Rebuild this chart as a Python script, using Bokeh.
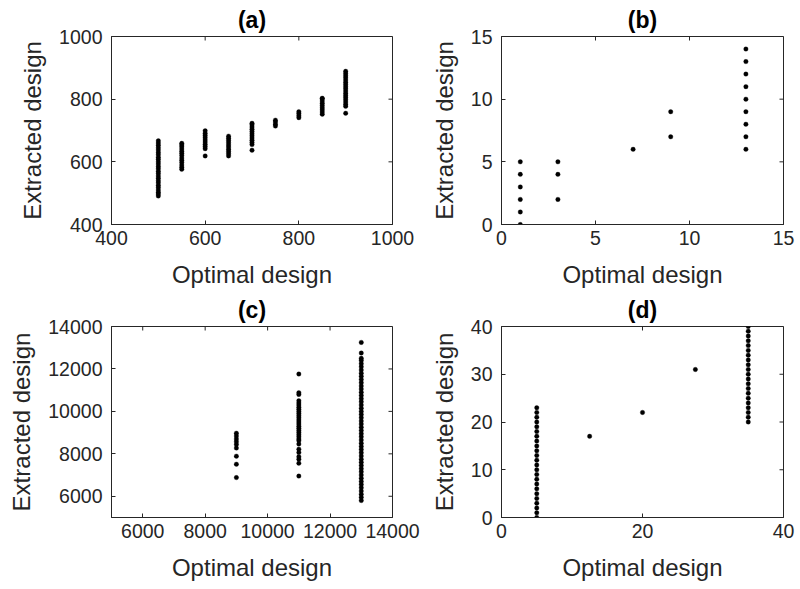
import math
from bokeh.plotting import figure
from bokeh.layouts import gridplot
from bokeh.models import Range1d, FixedTicker
from bokeh.embed import file_html
from bokeh.resources import INLINE

# ---------------- data ----------------
# (a)
a_cols = [500, 550, 600, 650, 700, 750, 800, 850, 900]
a_vals = [
    [491, 497, 503, 510, 518, 525, 533, 540, 548, 555, 563, 570, 578, 585, 593, 600, 608, 615, 623, 630, 638, 645, 653, 660, 667],
    [576, 583, 590, 598, 605, 612, 620, 627, 634, 641, 648, 654, 659],
    [619, 642, 649, 656, 663, 670, 677, 684, 691, 699],
    [619, 626, 633, 640, 647, 654, 661, 668, 675, 682],
    [637, 655, 662, 669, 676, 683, 690, 697, 704, 711, 718, 723],
    [714, 720, 727, 733],
    [741, 747, 754, 760],
    [752, 759, 766, 773, 780, 787, 794, 801, 803],
    [755, 777, 784, 791, 798, 805, 812, 819, 826, 833, 840, 847, 854, 861, 868, 875, 882, 889],
]
# (b)
b_cols = [1, 3, 7, 9, 13]
b_vals = [
    [0, 1, 2, 3, 4, 5],
    [2, 4, 5],
    [6],
    [7, 9],
    [6, 7, 8, 9, 10, 11, 12, 13, 14],
]
# (c)
c_cols = [9000, 11000, 13000]
c_vals = [
    [6880, 7510, 7890, 8270, 8440, 8570, 8700, 8840, 8970],
    [6950, 7560, 7750, 7860, 8060, 8220, 8460, 8620, 8700, 8800, 8900, 9000, 9100, 9200,
     9300, 9400, 9500, 9600, 9700, 9800, 9900, 10000, 10100, 10200, 10300, 10400, 10500,
     10800, 10880, 11760],
    [5800, 5950, 6100, 6250, 6400, 6550, 6700, 6850, 7000, 7150, 7300, 7450, 7600, 7750,
     7900, 8050, 8200, 8350, 8500, 8650, 8800, 8950, 9100, 9250, 9400, 9550, 9700, 9850,
     10000, 10150, 10300, 10450, 10600, 10750, 10900, 11050, 11200, 11350, 11500, 11650,
     11800, 11950, 12100, 12250, 12400, 12500, 12750, 13250],
]
# (d)
d_cols = [5, 12.5, 20, 27.5, 35]
d_vals = [
    [0, 1, 2, 3, 4, 5, 6, 7, 8, 9, 10, 11, 12, 13, 14, 15, 16, 17, 18, 19, 20, 21, 22, 23],
    [17],
    [22],
    [31],
    [20, 21, 22, 23, 24, 25, 26, 27, 28, 29, 30, 31, 32, 33, 34, 35, 36, 37, 38, 39, 40],
]

a_ticks = [400, 600, 800, 1000]
b_ticks = [0, 5, 10, 15]
c_ticks = [6000, 8000, 10000, 12000, 14000]
d_xticks = [0, 20, 40]
d_yticks = [0, 10, 20, 30, 40]

AX = "#262626"
FONT = "Liberation Sans"


def flatten(cols, vals):
    xs, ys = [], []
    for c, vs in zip(cols, vals):
        for v in vs:
            xs.append(c)
            ys.append(v)
    return xs, ys


def style_axis(ax, ticks, label, is_y=False):
    ax.ticker = FixedTicker(ticks=ticks)
    ax.axis_line_color = AX
    ax.axis_line_width = 1
    ax.major_tick_line_color = AX
    ax.major_tick_in = 4
    ax.major_tick_out = 0
    ax.minor_tick_line_color = None
    ax.major_label_text_font = FONT
    ax.major_label_text_color = AX
    ax.major_label_text_font_size = "19.5px"
    ax.major_label_standoff = 9 if is_y else 6
    ax.axis_label = label
    ax.axis_label_text_font = FONT
    ax.axis_label_text_font_size = "24px"
    ax.axis_label_text_font_style = "normal"
    ax.axis_label_text_color = AX
    ax.axis_label_standoff = 10 if is_y else 13


def panel(title, cols, vals, xr, yr, xticks, yticks, width, height, left, top, right, bottom):
    p = figure(width=width, height=height, output_backend="svg", toolbar_location=None,
               x_range=Range1d(*xr), y_range=Range1d(*yr), title=title,
               min_border_left=left, min_border_right=right,
               min_border_top=top, min_border_bottom=bottom)
    p.grid.visible = False
    p.outline_line_color = AX
    p.outline_line_width = 1
    p.background_fill_color = "white"
    p.border_fill_color = "white"
    p.title.align = "center"
    p.title.text_font = FONT
    p.title.text_font_size = "23px"
    p.title.text_font_style = "bold"
    p.title.text_color = "black"
    p.title.standoff = 8
    style_axis(p.xaxis[0], xticks, "Optimal design")
    style_axis(p.yaxis[0], yticks, "Extracted design", is_y=True)
    # mirrored inward ticks on the top and right edges of the box
    p.ray(x=xticks, y=[yr[1]] * len(xticks), length=4, length_units="screen",
          angle=-math.pi / 2, line_color=AX, line_width=1)
    p.ray(x=[xr[1]] * len(yticks), y=yticks, length=4, length_units="screen",
          angle=math.pi, line_color=AX, line_width=1)
    xs, ys = flatten(cols, vals)
    p.scatter(xs, ys, marker="circle", size=4.5, fill_color="black", line_color="black", line_width=0.3)
    return p


LW, RW = 420, 380
TH, BH = 290, 299

pa = panel("(a)", a_cols, a_vals, (400, 1000), (400, 1000), a_ticks, a_ticks,
           LW, TH, 111, 36, LW - 111 - 281, TH - 36 - 191)
pb = panel("(b)", b_cols, b_vals, (0, 15), (0, 15), b_ticks, b_ticks,
           RW, TH, 81, 36, RW - 81 - 282, TH - 36 - 191)
pc = panel("(c)", c_cols, c_vals, (5000, 14000), (5000, 14000), c_ticks, c_ticks,
           LW, BH, 111, 36, LW - 111 - 281, BH - 36 - 191)
pd = panel("(d)", d_cols, d_vals, (0, 40), (0, 40), d_xticks, d_yticks,
           RW, BH, 81, 36, RW - 81 - 282, BH - 36 - 191)

grid = gridplot([[pa, pb], [pc, pd]], toolbar_location=None)

open("out.html", "w").write(file_html(grid, INLINE))
